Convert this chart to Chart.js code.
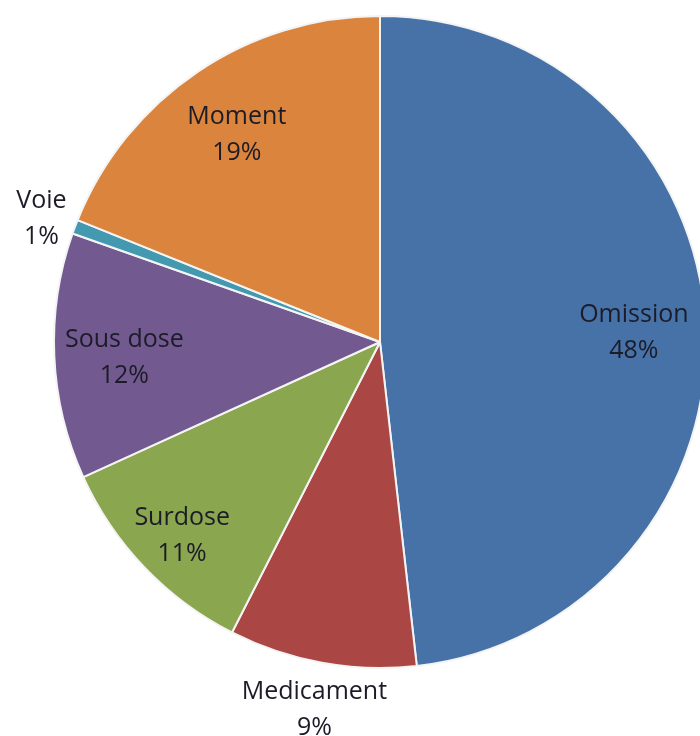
<!DOCTYPE html>
<html>
<head>
<meta charset="utf-8">
<script src="https://cdn.jsdelivr.net/npm/chart.js@4/dist/chart.umd.min.js"></script>
<style>
  html, body { margin: 0; padding: 0; background: #fff; overflow: hidden; }
  #wrap { width: 760px; height: 736px; }
</style>
</head>
<body>
<div id="wrap"><canvas id="chart" width="760" height="736"></canvas></div>
<script>
const categories = ['Omission', 'Medicament', 'Surdose', 'Sous dose', 'Voie', 'Moment'];
const values = [48.2, 9.3, 10.7, 12.2, 0.7, 18.9];
const percentLabels = ['48%', '9%', '11%', '12%', '1%', '19%'];
const colors = ['#4672A8', '#AA4744', '#8AA64F', '#725A91', '#4299B0', '#DB843D'];

// how far from the centre each label sits, as a share of the radius
const labelRadius = [0.78, 1.13, 0.84, 0.785, 1.11, 0.785];

const labelPlugin = {
  id: 'sliceLabels',
  afterDatasetsDraw(chart) {
    const ctx = chart.ctx;
    const arcs = chart.getDatasetMeta(0).data;
    ctx.save();
    ctx.font = '25px "Open Sans", "Noto Sans", sans-serif';
    ctx.fillStyle = '#1c1c28';
    ctx.textAlign = 'center';
    ctx.textBaseline = 'middle';
    arcs.forEach((arc, i) => {
      const p = arc.getProps(['x', 'y', 'startAngle', 'endAngle', 'outerRadius']);
      const mid = (p.startAngle + p.endAngle) / 2;
      const r = p.outerRadius * labelRadius[i];
      const x = p.x + Math.cos(mid) * r;
      const y = p.y + Math.sin(mid) * r;
      ctx.fillText(categories[i], x, y - 13);
      ctx.fillText(percentLabels[i], x, y + 23);
    });
    ctx.restore();
  }
};

new Chart(document.getElementById('chart'), {
  type: 'pie',
  data: {
    labels: categories,
    datasets: [{
      data: values,
      backgroundColor: colors,
      borderColor: '#f4f4f4',
      borderWidth: 2
    }]
  },
  options: {
    responsive: false,
    animation: false,
    layout: { padding: { left: 53, right: 53, top: 15, bottom: 67 } },
    plugins: {
      legend: { display: false },
      tooltip: { enabled: false }
    }
  },
  plugins: [labelPlugin]
});
</script>
</body>
</html>
